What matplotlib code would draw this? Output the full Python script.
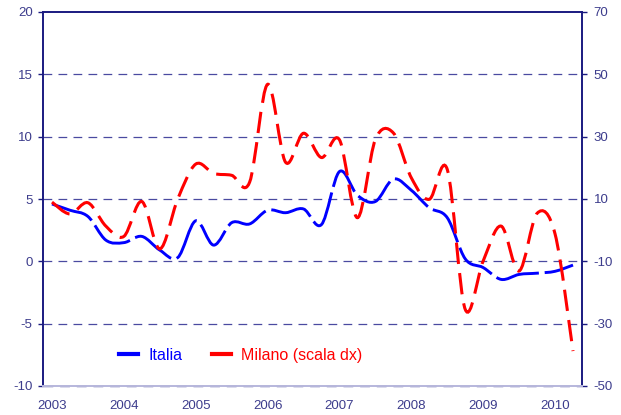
import numpy as np
import matplotlib.pyplot as plt
from matplotlib.path import Path
from matplotlib.patches import PathPatch
from matplotlib.lines import Line2D

plt.rcParams['font.family'] = ['Liberation Sans', 'DejaVu Sans']
plt.rcParams['axes.unicode_minus'] = False

# Quarterly data, 2003Q1 - 2010Q2
years = ['2003', '2004', '2005', '2006', '2007', '2008', '2009', '2010']
quarters = np.arange(30)

# Italia (left scale)
italia = [4.6, 4.1, 3.6, 1.7, 1.5, 2.0, 0.9, 0.3,
          3.25, 1.3, 3.1, 3.0, 4.1, 3.9, 4.2, 2.95,
          7.2, 5.3, 4.8, 6.6, 5.7, 4.3, 3.5, 0.2,
          -0.5, -1.45, -1.05, -0.95, -0.8, -0.3]

# Milano (right scale)
milano = [9.0, 5.2, 8.8, 1.3, -2.0, 9.2, -6.0, 10.0,
          21.2, 18.2, 17.6, 15.4, 46.8, 21.8, 31.1, 23.3,
          29.0, 4.0, 29.1, 31.2, 16.8, 9.9, 19.5, -25.4,
          -9.9, 1.3, -13.1, 5.4, -1.2, -38.8]

navy = '#1a1a80'
label_col = '#3c3c8c'
grid_col = '#4a4aa0'


# Smoothed line (cubic bezier through the points, like a spreadsheet "smoothed line")
def smooth_path(x, y):
    x = np.asarray(x, float)
    y = np.asarray(y, float)
    n = len(x)
    verts = [(x[0], y[0])]
    codes = [Path.MOVETO]
    for i in range(n - 1):
        xp, yp = (x[i - 1], y[i - 1]) if i > 0 else (x[i], y[i])
        xn, yn = (x[i + 2], y[i + 2]) if i + 2 < n else (x[i + 1], y[i + 1])
        c1 = (x[i] + (x[i + 1] - xp) / 6, y[i] + (y[i + 1] - yp) / 6)
        c2 = (x[i + 1] - (xn - x[i]) / 6, y[i + 1] - (yn - y[i]) / 6)
        verts += [c1, c2, (x[i + 1], y[i + 1])]
        codes += [Path.CURVE4] * 3
    return Path(verts, codes)


fig = plt.figure(figsize=(6.21, 4.15), dpi=100)
ax = fig.add_axes([43 / 621, 1 - 386 / 415, (582 - 43) / 621, (386 - 12) / 415])
ax2 = ax.twinx()

ax.set_xlim(-0.5, 29.5)
ax.set_ylim(-10, 20)
ax2.set_ylim(-50, 70)

# Grid
for v in [-5, 0, 5, 10, 15]:
    ax.axhline(v, color=grid_col, lw=0.9, dashes=(7, 5), zorder=1)
# bottom line: dashed over a faint solid spine
ax.axhline(-10, color=grid_col, lw=1.0, dashes=(7, 5), zorder=4, clip_on=False)

ax.add_patch(PathPatch(smooth_path(quarters, italia), fill=False,
                       edgecolor='#0000ff', lw=2.1, linestyle=(0, (15, 2)),
                       capstyle='butt', zorder=3))
ax2.add_patch(PathPatch(smooth_path(quarters, milano), fill=False,
                        edgecolor='#ff0000', lw=2.2, linestyle=(0, (7, 3)),
                        capstyle='butt', zorder=3))

# Axes styling
ax.set_xticks(quarters[::4])
ax.set_xticklabels(years)
ax.set_yticks(np.arange(-10, 21, 5))
ax2.set_yticks(np.arange(-50, 71, 20))

ax.tick_params(axis='x', length=0, pad=10, labelsize=9.5, labelcolor=label_col)
ax.tick_params(axis='y', length=3.5, width=1, color=navy, pad=4,
               labelsize=9.5, labelcolor=label_col)
ax2.tick_params(axis='y', length=3.5, width=1, color=navy, pad=5,
                labelsize=9.5, labelcolor=label_col)

for a in (ax, ax2):
    for s in ['left', 'right', 'top']:
        a.spines[s].set_color(navy)
        a.spines[s].set_linewidth(1.2)
    a.spines['bottom'].set_color('#b8b8dc')
    a.spines['bottom'].set_linewidth(1.4)

# Legend
handles = [Line2D([], [], color='#0000ff', lw=3),
           Line2D([], [], color='#ff0000', lw=3)]
leg = ax2.legend(handles, ['Italia', 'Milano (scala dx)'], ncol=2, frameon=False,
                 fontsize=11.5, handlelength=1.15, handletextpad=0.65,
                 columnspacing=1.9, loc='center left',
                 bbox_to_anchor=(105 / 621, 1 - 355 / 415),
                 bbox_transform=fig.transFigure)
for t, c in zip(leg.get_texts(), ['#0000ff', '#ff0000']):
    t.set_color(c)

fig.savefig('out.png', dpi=100)
